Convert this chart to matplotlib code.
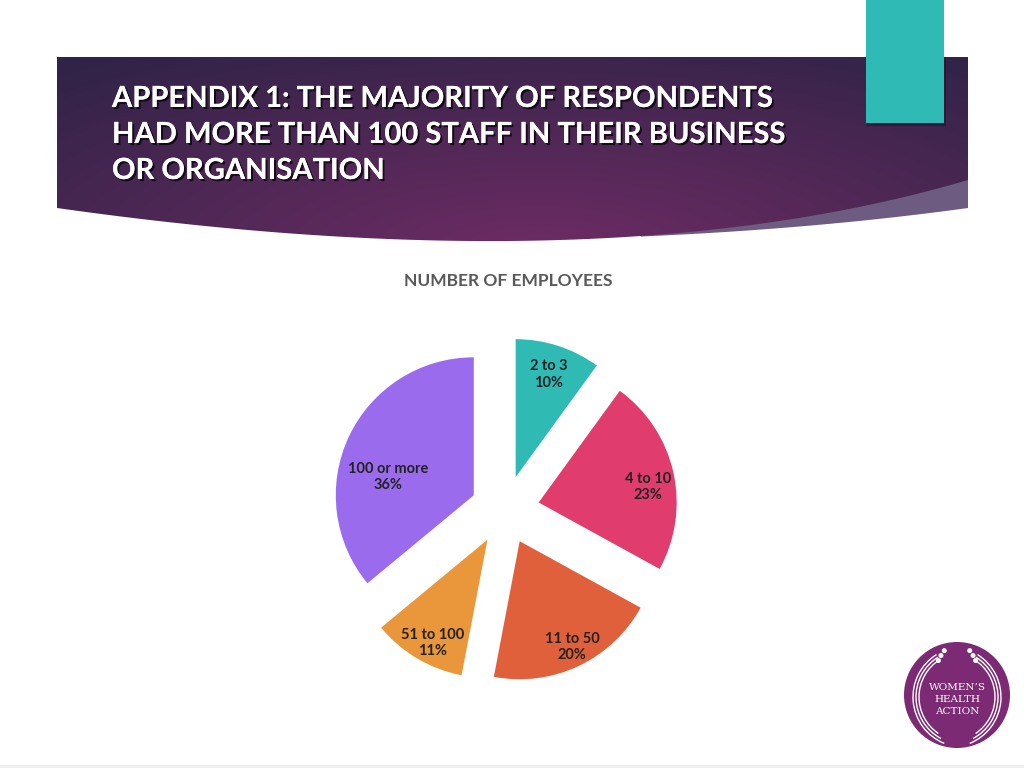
import numpy as np
import matplotlib
matplotlib.use("Agg")
import matplotlib.pyplot as plt
from matplotlib.patches import Polygon, Rectangle, Circle, Arc
from matplotlib import patheffects, font_manager

# chart data
categories = ["2 to 3", "4 to 10", "11 to 50", "51 to 100", "100 or more"]
shares = [10, 23, 20, 11, 36]
slice_colors = ["#2fbab4", "#e03c6e", "#e0603b", "#ea963b", "#9b6bee"]
# label placement from each slice's own centre: distance (radius units), turn (deg)
label_dist = [0.78, 0.80, 0.856, 0.847, 0.636]
label_turn = [0, -4.6, 1.1, 2.8, 13.1]

title_lines = ["APPENDIX 1: THE MAJORITY OF RESPONDENTS",
               "HAD MORE THAN 100 STAFF IN THEIR BUSINESS",
               "OR ORGANISATION"]
chart_title = "NUMBER OF EMPLOYEES"
logo_lines = ["WOMEN\u2019S", "HEALTH", "ACTION"]

W, H = 1024, 768

def pick_font(names):
    have = set(f.name for f in font_manager.fontManager.ttflist)
    for n in names:
        if n in have:
            return n
    return "DejaVu Sans"

def quad(p0, p1, p2, n=80):
    s = np.linspace(0, 1, n)[:, None]
    p0, p1, p2 = map(np.array, (p0, p1, p2))
    return (1 - s) ** 2 * p0 + 2 * (1 - s) * s * p1 + s ** 2 * p2

title_font = pick_font(["Lato", "DejaVu Sans"])
body_font = pick_font(["Lato", "DejaVu Sans"])

fig = plt.figure(figsize=(W / 100, H / 100), dpi=100)
bg = fig.add_axes([0, 0, 1, 1])
bg.set_xlim(0, W)
bg.set_ylim(H, 0)
bg.axis("off")

# banner: flat top, curved bottom, light sliver on the right
bottom = quad((968, 180), (608, 286), (57, 208))
banner_pts = np.vstack([[(57, 57), (968, 57)], bottom])
lower = quad((968, 208), (815, 229), (641, 236.5))
sliver_pts = np.vstack([lower, [(641, 200), (968, 150)]])
bg.add_patch(Polygon(sliver_pts, closed=True, facecolor="#6e5b82", edgecolor="none", zorder=1))

xs = np.linspace(57, 968, 400)
ys = np.linspace(57, 245, 120)
gx, gy = np.meshgrid(xs, ys)
d = np.sqrt(((gx - 540) / 760) ** 2 + ((gy - 255) / 250) ** 2)
t = np.clip(d, 0, 1)[..., None]
c_in = np.array(matplotlib.colors.to_rgb("#6e2c64"))
c_out = np.array(matplotlib.colors.to_rgb("#2f2347"))
img = c_in * (1 - t) + c_out * t
clip = Polygon(banner_pts, closed=True, facecolor="none", edgecolor="none")
bg.add_patch(clip)
im = bg.imshow(img, extent=(57, 968, 245, 57), origin="upper", zorder=2, aspect="auto")
im.set_clip_path(clip)

# teal tab with a soft shadow
bg.add_patch(Rectangle((867, 57), 79, 69, facecolor="black", alpha=0.3, edgecolor="none", zorder=3))
bg.add_patch(Rectangle((866, 0), 78, 123, facecolor="#2fbab5", edgecolor="none", zorder=4))

shadow = [patheffects.withSimplePatchShadow(offset=(1.5, -1.5), shadow_rgbFace="black", alpha=0.7),
          patheffects.Normal()]
for i, line in enumerate(title_lines):
    bg.text(112, 99 + i * 36, line, color="white", fontsize=21, fontweight="bold",
            family=title_font, va="center", ha="left", zorder=5, path_effects=shadow)

bg.text(508, 281, chart_title, color="#595959", fontsize=12.5, fontweight="bold",
        family=body_font, ha="center", va="center")

# logo
lx, ly = 957, 695
bg.add_patch(Circle((lx, ly), 53, facecolor="#7b2a73", edgecolor="none", zorder=3))
for k, rr in enumerate((50, 47, 44)):
    a_top = 112 + k * 6
    for side in (1, -1):
        c = (lx + side * 6, ly + 2)
        if side > 0:
            arc = Arc(c, 2 * rr, 2 * rr, theta1=a_top, theta2=238, color="white", lw=1.0, zorder=4)
        else:
            arc = Arc(c, 2 * rr, 2 * rr, theta1=-58, theta2=180 - a_top, color="white", lw=1.0, zorder=4)
        bg.add_patch(arc)
        a = np.radians(a_top)
        bg.add_patch(Circle((c[0] + side * rr * np.cos(a), c[1] - rr * np.sin(a)), 1.8,
                            color="white", zorder=5))
bg.add_patch(Arc((lx, ly + 60), 70, 40, theta1=55, theta2=125, color="white", lw=1.0, zorder=4))
for i, s in enumerate(logo_lines):
    bg.text(lx, 687 + i * 12.5, s, color="white", fontsize=7.5, family="DejaVu Serif",
            ha="center", va="center", zorder=6)

# bottom strip
bg.add_patch(Rectangle((0, 765), W, 3, facecolor="#efefef", edgecolor="none"))

# pie chart
cx, cy, r = 505, 510, 138
half = 1.5 * r
ax = fig.add_axes([(cx - half) / W, (H - cy - half) / H, 2 * half / W, 2 * half / H])
wedges, _ = ax.pie(shares, colors=slice_colors, startangle=90, counterclock=False,
                   explode=[0.25] * len(shares), radius=1,
                   wedgeprops=dict(edgecolor="none"))
ax.set_xlim(-1.5, 1.5)
ax.set_ylim(-1.5, 1.5)
ax.set_aspect("equal")
ax.axis("off")

for w, cat, val, dist, turn in zip(wedges, categories, shares, label_dist, label_turn):
    mid = np.radians((w.theta1 + w.theta2) / 2 + turn)
    x0, y0 = w.center
    ax.text(x0 + dist * np.cos(mid), y0 + dist * np.sin(mid), f"{cat}\n{val}%",
            ha="center", va="center", fontsize=10.5, family=body_font, fontweight="bold",
            color="#222222", linespacing=1.25)

fig.savefig("out.png", dpi=100)
